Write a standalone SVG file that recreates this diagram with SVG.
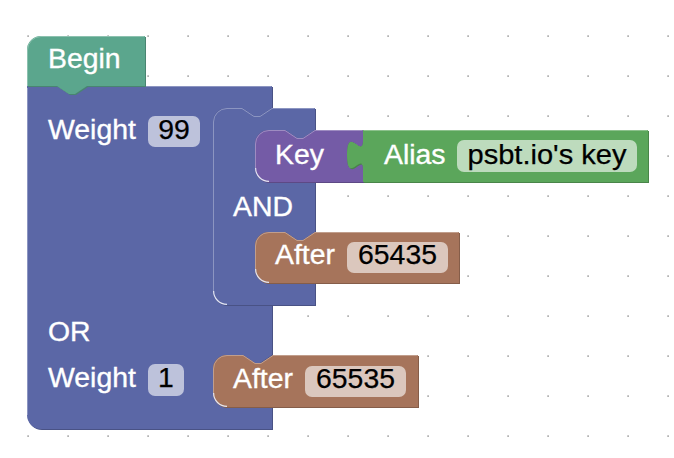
<svg xmlns="http://www.w3.org/2000/svg" width="674" height="458" viewBox="0 0 674 458">
<style>
text{font-family:"Liberation Sans",Arial,Helvetica,sans-serif;font-size:28.4px}
.lbl{fill:#fff;stroke:#fff;stroke-width:0.35}
.val{fill:#000;stroke:#000;stroke-width:0.25;text-anchor:middle}
.fld{fill:#fff;fill-opacity:.6}
.hl{fill:none;stroke-width:1}
.inner{fill:none;stroke:#e4e6f2;stroke-width:1.2}
</style>
<defs>
<pattern id="grid" x="27" y="35" width="40" height="40" patternUnits="userSpaceOnUse">
<rect x="0.4" y="0.4" width="1.4" height="1.4" fill="#888"/>
</pattern>
</defs>
<rect width="674" height="458" fill="#fff"/>
<rect x="20" y="30" width="654" height="412" fill="url(#grid)"/>

<g id="connectors"></g>

<g id="or-block">
<path transform="translate(1,1)" fill="#495285" d="M27,86 H57 l12,8 h6 l12,-8 H272 V108 l-12,8 h-6 l-12,-8 H227 A14,14 0 0 0 213,122 V291 A14,14 0 0 0 227,305 H272 V355 l-12,8 h-6 l-12,-8 H227 A14,14 0 0 0 213,369 V393 A14,14 0 0 0 227,407 H272 V429 H41 A14,14 0 0 1 27,415 Z"/>
<path fill="#5b67a6" d="M27,86 H57 l12,8 h6 l12,-8 H272 V108 l-12,8 h-6 l-12,-8 H227 A14,14 0 0 0 213,122 V291 A14,14 0 0 0 227,305 H272 V355 l-12,8 h-6 l-12,-8 H227 A14,14 0 0 0 213,369 V393 A14,14 0 0 0 227,407 H272 V429 H41 A14,14 0 0 1 27,415 Z"/>
<path class="hl" stroke="#8c95c1" d="M27.5,88 V415 M87,86.5 H271.5"/>
<text class="lbl" x="48" y="139">Weight</text>
<rect class="fld" x="148" y="116" width="52" height="31" rx="7"/>
<text class="val" x="174" y="139">99</text>
<text class="lbl" x="48" y="341">OR</text>
<text class="lbl" x="48" y="387">Weight</text>
<rect class="fld" x="148" y="364" width="36" height="32" rx="7"/>
<text class="val" x="166" y="387">1</text>
</g>

<g id="begin">
<path transform="translate(1,1)" fill="#498571" d="M41,36 H145 V86 H87 l-12,8 h-6 l-12,-8 H27 V50 A14,14 0 0 1 41,36 Z"/>
<path fill="#5ba68d" d="M41,36 H145 V86 H87 l-12,8 h-6 l-12,-8 H27 V50 A14,14 0 0 1 41,36 Z"/>
<path class="hl" stroke="#8cc1af" d="M27.5,86 V50 A13.5,13.5 0 0 1 41,36.5 H144.5"/>
<text class="lbl" x="48" y="68">Begin</text>
</g>

<g id="and-block">
<path transform="translate(1,1)" fill="#495285" d="M227,108 H242 l12,8 h6 l12,-8 H315 V130 l-12,8 h-6 l-12,-8 H269 A14,14 0 0 0 255,144 V168 A14,14 0 0 0 269,182 H315 V232 l-12,8 h-6 l-12,-8 H269 A14,14 0 0 0 255,246 V269 A14,14 0 0 0 269,283 H315 V305 H227 A14,14 0 0 1 213,291 V122 A14,14 0 0 1 227,108 Z"/>
<path fill="#5b67a6" d="M227,108 H242 l12,8 h6 l12,-8 H315 V130 l-12,8 h-6 l-12,-8 H269 A14,14 0 0 0 255,144 V168 A14,14 0 0 0 269,182 H315 V232 l-12,8 h-6 l-12,-8 H269 A14,14 0 0 0 255,246 V269 A14,14 0 0 0 269,283 H315 V305 H227 A14,14 0 0 1 213,291 V122 A14,14 0 0 1 227,108 Z"/>
<path class="hl" stroke="#8c95c1" d="M213.5,291 V122 A13.5,13.5 0 0 1 227,108.5 H242 l12,8 h6 l12,-8 H314.5"/>
<path class="inner" d="M213.6,291 A13.4,13.4 0 0 0 227,304.4"/>
<text class="lbl" x="233" y="216">AND</text>
</g>

<g id="key-block">
<path transform="translate(1,1)" fill="#5d4985" d="M269,130 H285 l12,8 h6 l12,-8 H363 V140 C363,160 347,124 347,155 C347,186 363,150 363,170 V182 H269 A14,14 0 0 1 255,168 V144 A14,14 0 0 1 269,130 Z"/>
<path fill="#745ba6" d="M269,130 H285 l12,8 h6 l12,-8 H363 V140 C363,160 347,124 347,155 C347,186 363,150 363,170 V182 H269 A14,14 0 0 1 255,168 V144 A14,14 0 0 1 269,130 Z"/>
<path class="hl" stroke="#9e8cc1" d="M255.5,168 V144 A13.5,13.5 0 0 1 269,130.5 H285 l12,8 h6 l12,-8 H362.5"/>
<path class="inner" d="M255.6,168 A13.4,13.4 0 0 0 269,181.4"/>
<text class="lbl" x="275" y="164">Key</text>
</g>

<g id="alias-block">
<path transform="translate(1,1)" fill="#498549" d="M363,130 H648 V182 H363 V170 C363,150 347,186 347,155 C347,124 363,160 363,140 Z"/>
<path fill="#5ba65b" d="M363,130 H648 V182 H363 V170 C363,150 347,186 347,155 C347,124 363,160 363,140 Z"/>
<path class="hl" stroke="#8cc18c" d="M363.5,130.5 H647.5"/>
<text class="lbl" x="384" y="164">Alias</text>
<rect class="fld" x="457" y="140" width="180" height="32" rx="7"/>
<text class="val" x="547" y="164" textLength="159" lengthAdjust="spacingAndGlyphs">psbt.io's key</text>
</g>

<g id="after-65435">
<path transform="translate(1,1)" fill="#855d49" d="M269,232 H285 l12,8 h6 l12,-8 H459 V283 H269 A14,14 0 0 1 255,269 V246 A14,14 0 0 1 269,232 Z"/>
<path fill="#a6745b" d="M269,232 H285 l12,8 h6 l12,-8 H459 V283 H269 A14,14 0 0 1 255,269 V246 A14,14 0 0 1 269,232 Z"/>
<path class="hl" stroke="#c19e8c" d="M255.5,269 V246 A13.5,13.5 0 0 1 269,232.5 H285 l12,8 h6 l12,-8 H458.5"/>
<path class="inner" d="M255.6,269 A13.4,13.4 0 0 0 269,282.4"/>
<text class="lbl" x="275" y="264">After</text>
<rect class="fld" x="347" y="242" width="101" height="31" rx="7"/>
<text class="val" x="397.5" y="264">65435</text>
</g>

<g id="after-65535">
<path transform="translate(1,1)" fill="#855d49" d="M227,355 H243 l12,8 h6 l12,-8 H418 V407 H227 A14,14 0 0 1 213,393 V369 A14,14 0 0 1 227,355 Z"/>
<path fill="#a6745b" d="M227,355 H243 l12,8 h6 l12,-8 H418 V407 H227 A14,14 0 0 1 213,393 V369 A14,14 0 0 1 227,355 Z"/>
<path class="hl" stroke="#c19e8c" d="M213.5,393 V369 A13.5,13.5 0 0 1 227,355.5 H243 l12,8 h6 l12,-8 H417.5"/>
<path class="inner" d="M213.6,393 A13.4,13.4 0 0 0 227,406.4"/>
<text class="lbl" x="233" y="388">After</text>
<rect class="fld" x="305" y="366" width="101" height="31" rx="7"/>
<text class="val" x="355.5" y="388">65535</text>
</g>
</svg>
